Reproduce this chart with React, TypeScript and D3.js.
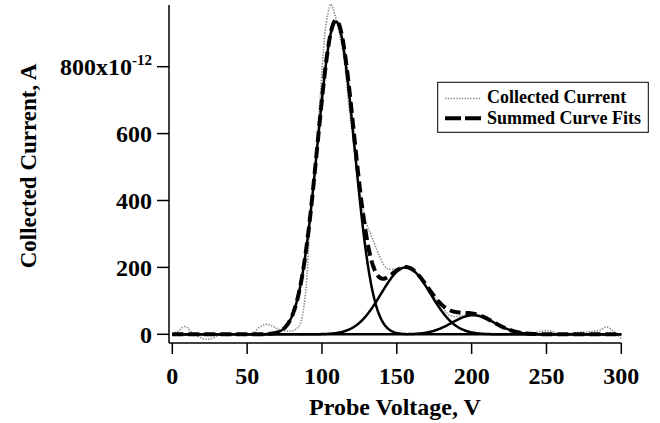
import React from "react";
import * as d3 from "d3";

// Measured collected current (probe voltage V, current in pA)
const measVoltage = [0, 4, 8.5, 14, 18, 23, 28, 32, 40, 50, 54, 58, 63, 68, 72, 76, 80, 82, 84, 86, 88, 90, 91.5, 93.5, 95.3, 97, 98.7, 100.2, 102, 104, 105.8, 107.5, 109.5, 111.6, 115.4, 117.6, 120, 123.2, 126.5, 129.9, 132, 135, 138, 141, 145, 150, 155, 160, 165, 170, 176.6, 180, 185.5, 190, 195, 200, 205, 210, 215, 221, 226, 232, 240, 245, 250, 254, 258, 262, 266, 272, 280, 286, 290, 294, 298, 300];
const measCurrent = [0, 10, 23, 2, -8, -15, -10, 0, 0, 1, 4, 20, 30, 22, 13, 10, 10, 14, 20, 38, 85, 175, 300, 400, 491, 600, 700, 800, 900, 960, 987, 972, 940, 900, 800, 700, 610, 491, 400, 330, 305, 272, 238, 210, 194, 195, 199, 194, 172, 140, 103, 85, 56, 53, 57, 59, 56, 47, 35, 22, 13, 6, 2, 8, 11, 8, 0, -2, 3, 6, 8, 13, 22, 12, -5, -12];

// Gaussian curve-fit components
const fitCenters = [109.3, 156, 201];
const fitWidths = [12.3, 16.5, 14.2];
const fitAmplitudes = [935, 200, 57];

const xTicks = [0, 50, 100, 150, 200, 250, 300];
const yTicks = [0, 200, 400, 600, 800];
const legendLabels = ["Collected Current", "Summed Curve Fits"];

const FONT = "'Liberation Serif', 'Times New Roman', serif";

export default function App() {
  const x = d3.scaleLinear().domain([0, 300]).range([172.3, 621.3]);
  const y = d3.scaleLinear().domain([0, 800]).range([334.3, 66.7]);

  const grid = d3.range(0, 300.01, 0.5);
  const comp = (i: number, v: number) =>
    fitAmplitudes[i] * Math.exp(-((v - fitCenters[i]) ** 2) / (2 * fitWidths[i] ** 2));

  const line = d3
    .line<[number, number]>()
    .x((d) => x(d[0]))
    .y((d) => y(d[1]));

  const measPath = d3
    .line<number>()
    .x((_, i) => x(measVoltage[i]))
    .y((d) => y(d))
    .curve(d3.curveMonotoneX)(measCurrent) as string;

  const compPaths = fitCenters.map((_, i) =>
    line(grid.map((v) => [v, comp(i, v)] as [number, number])) as string
  );
  const sumPath = line(
    grid.map((v) => [v, fitCenters.reduce((s, _, i) => s + comp(i, v), 0)] as [number, number])
  ) as string;

  const axisX = 169;
  const axisY = 343;

  return (
    <svg width={660} height={423} style={{ position: "absolute", left: 0, top: 0, background: "#fff" }}>
      {/* axes */}
      <line x1={axisX} y1={5} x2={axisX} y2={axisY} stroke="#000" strokeWidth={1.5} />
      <line x1={axisX} y1={axisY} x2={x(300)} y2={axisY} stroke="#000" strokeWidth={1.5} />
      {yTicks.map((t) => (
        <g key={"y" + t}>
          <line x1={157} x2={axisX} y1={y(t)} y2={y(t)} stroke="#000" strokeWidth={1.5} />
          <text
            x={152}
            y={y(t) + 8.3}
            textAnchor="end"
            fontFamily={FONT}
            fontWeight="bold"
            fontSize={24}
          >
            {t === 800 ? (
              <>
                800x10
                <tspan dy={-10} fontSize={15}>-12</tspan>
              </>
            ) : (
              String(t)
            )}
          </text>
        </g>
      ))}
      {xTicks.map((t) => (
        <g key={"x" + t}>
          <line x1={x(t)} x2={x(t)} y1={axisY} y2={354} stroke="#000" strokeWidth={1.5} />
          <text x={x(t)} y={384} textAnchor="middle" fontFamily={FONT} fontWeight="bold" fontSize={24}>
            {t}
          </text>
        </g>
      ))}
      <text x={395} y={415} textAnchor="middle" fontFamily={FONT} fontWeight="bold" fontSize={24}>
        Probe Voltage, V
      </text>
      <text
        transform="translate(36,166) rotate(-90)"
        textAnchor="middle"
        fontFamily={FONT}
        fontWeight="bold"
        fontSize={23}
      >
        Collected Current, A
      </text>

      {/* data */}
      <path d={measPath} fill="none" stroke="#8a8a8a" strokeWidth={1.6} strokeDasharray="1.4,1.4" />
      {compPaths.map((p, i) => (
        <path key={i} d={p} fill="none" stroke="#000" strokeWidth={2.5} />
      ))}
      <path d={sumPath} fill="none" stroke="#000" strokeWidth={4} strokeDasharray="11,5" />

      {/* legend */}
      <rect x={437.7} y={82.3} width={210.6} height={50} fill="#fff" stroke="#000" strokeWidth={1} />
      <line x1={445} x2={481} y1={98.5} y2={98.5} stroke="#8a8a8a" strokeWidth={1.6} strokeDasharray="1.4,1.4" />
      <line x1={445} x2={481} y1={118.3} y2={118.3} stroke="#000" strokeWidth={4} strokeDasharray="16,4" />
      {legendLabels.map((l, i) => (
        <text key={l} x={487} y={102.7 + i * 21.3} fontFamily={FONT} fontWeight="bold" fontSize={18}>
          {l}
        </text>
      ))}
    </svg>
  );
}
